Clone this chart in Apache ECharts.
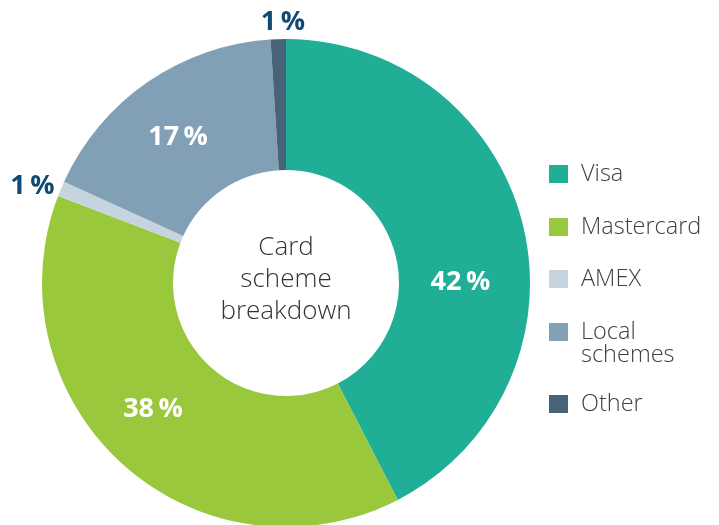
<!DOCTYPE html>
<html>
<head>
<meta charset="utf-8">
<script src="https://cdn.jsdelivr.net/npm/echarts@6/dist/echarts.min.js"></script>
<style>
html,body{margin:0;padding:0;background:#fff;}
#chart{width:719px;height:525px;}
</style>
</head>
<body>
<div id="chart"></div>
<script>
const categories = ['Visa', 'Mastercard', 'AMEX', 'Local schemes', 'Other'];
const values = [42, 38, 1, 17, 1];
const labels = ['42\u2009%', '38\u2009%', '1\u2009%', '17\u2009%', '1\u2009%'];
const colors = ['#21ae96', '#9ac83d', '#c5d4df', '#819fb5', '#476378'];
const centerTitle = 'Card\nscheme\nbreakdown';

const FONT = '"Open Sans", "Noto Sans", sans-serif';
const insideSet = new Set([0, 1, 3]);
const labelShift = {0: [-2, 42], 1: [-12, -9], 2: [6, 1], 3: [-5, 4], 4: [32, -9]};

const data = categories.map((name, i) => ({
  name: name,
  value: values[i],
  itemStyle: {color: colors[i]},
  label: insideSet.has(i)
    ? {position: 'inside', color: '#ffffff'}
    : {position: 'outside', color: '#0f4a74'},
  labelLine: {show: false}
}));

const legendTops = [162, 215, 267, 320, 392];
const legends = categories.map((name, i) => ({
  data: [name],
  orient: 'vertical',
  left: 549,
  top: legendTops[i],
  padding: 0,
  itemWidth: 19,
  itemHeight: 18,
  icon: 'rect',
  selectedMode: false,
  formatter: n => (n === 'Local schemes' ? 'Local' : n),
  textStyle: {fontFamily: FONT, fontSize: 23.5, fontWeight: 300, color: '#404040', lineHeight: 18, padding: [0, 0, 0, 8]}
}));

const chart = echarts.init(document.getElementById('chart'));
chart.setOption({
  animation: false,
  backgroundColor: '#ffffff',
  legend: legends,
  graphic: [
    {type: 'text', left: 581, top: 343, style: {text: 'schemes', font: '300 23.5px ' + FONT, fill: '#404040'}},
    {type: 'text', x: 286, y: 280, style: {text: centerTitle, font: '300 26px ' + FONT, fill: '#333333', align: 'center', verticalAlign: 'middle', lineHeight: 32}}
  ],
  series: [{
    type: 'pie',
    center: [286, 283],
    radius: [113, 244],
    startAngle: 90,
    clockwise: true,
    avoidLabelOverlap: false,
    label: {
      show: true,
      formatter: p => labels[p.dataIndex],
      fontFamily: FONT,
      fontWeight: 'bold',
      fontSize: 27
    },
    labelLine: {show: false, length: 8, length2: 0},
    labelLayout: function (params) {
      const s = labelShift[params.dataIndex];
      return {dx: s[0], dy: s[1]};
    },
    emphasis: {disabled: true},
    data: data
  }]
});
</script>
</body>
</html>
